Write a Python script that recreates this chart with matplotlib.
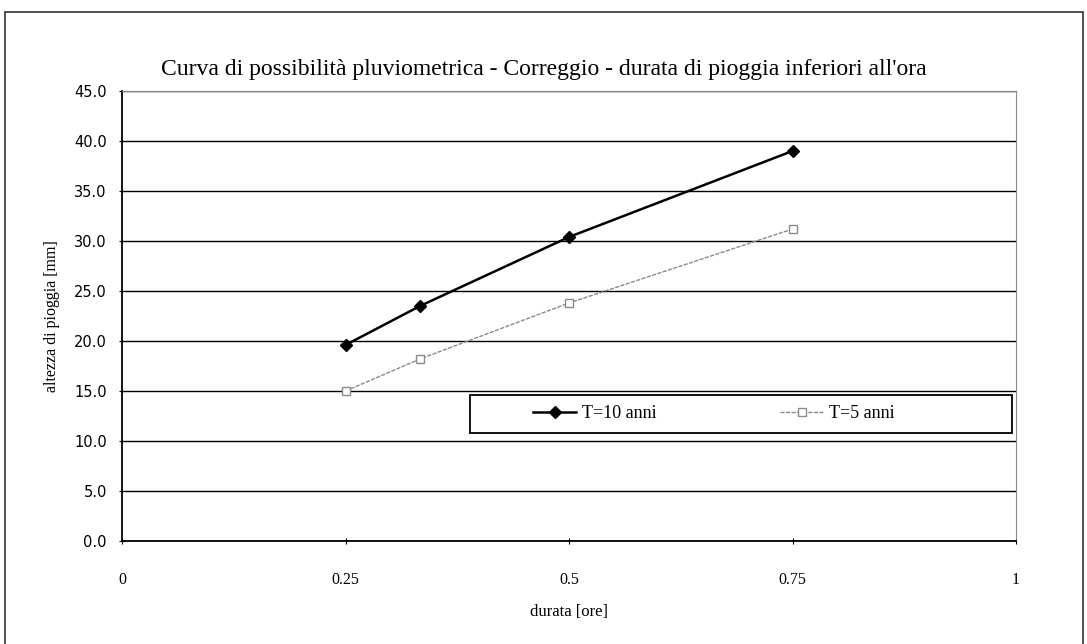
import matplotlib
matplotlib.use("Agg")
import matplotlib.pyplot as plt
from matplotlib.patches import Rectangle

plt.rcParams['font.family'] = ['Liberation Serif', 'DejaVu Serif']

durata = [0.25, 1/3, 0.5, 0.75]
t10 = [19.6, 23.5, 30.4, 39.0]
t5 = [15.0, 18.2, 23.8, 31.2]
yticks = [0, 5, 10, 15, 20, 25, 30, 35, 40, 45]
xticks = [0, 0.25, 0.5, 0.75, 1]
xticklabels = ['0', '0.25', '0.5', '0.75', '1']

W, H = 1087, 644
fig = plt.figure(figsize=(W/100, H/100), dpi=100)
fig.patches.append(Rectangle((5/W, -0.02), 1078/W, 1.02 - 12/H, transform=fig.transFigure,
                             fill=False, edgecolor='#333333', lw=1.2))
ax = fig.add_axes([122/W, 103/H, 894/W, 450/H])

l1, = ax.plot(durata, t10, color='black', lw=1.8, marker='D', ms=6, label='T=10 anni', zorder=3)
l2, = ax.plot(durata, t5, color='#8a8a8a', lw=1.0, ls=(0, (3, 1)), marker='s', ms=6,
              mfc='white', mec='#8a8a8a', label='T=5 anni', zorder=3)

ax.set_xlim(0, 1)
ax.set_ylim(0, 45)
ax.set_yticks(yticks)
ax.set_yticklabels([f'{v:.1f}' for v in yticks], fontsize=10.5, family='DejaVu Sans')
ax.set_xticks(xticks)
ax.set_xticklabels(xticklabels, fontsize=11.5)
ax.tick_params(axis='x', pad=20, length=4, direction='inout')
ax.tick_params(axis='y', pad=9, length=4, direction='inout')
ax.yaxis.grid(True, color='black', lw=1.0)
ax.set_axisbelow(True)
for s in ['top', 'right']:
    ax.spines[s].set_color('#888888')
ax.spines['left'].set_lw(1.3)
ax.spines['bottom'].set_lw(1.3)

ax.set_xlabel('durata [ore]', fontsize=12, labelpad=12)
ax.set_ylabel('altezza di pioggia [mm]', fontsize=11.5, labelpad=10)

fig.text(544/W, 1 - 70/H,
         "Curva di possibilità pluviometrica - Correggio - durata di pioggia inferiori all'ora",
         ha='center', va='center', fontsize=17)

# legend frame and entries
ax.add_patch(Rectangle(((470-122)/894, (541-433)/450), (1012-470)/894, 38/450,
                       transform=ax.transAxes, fill=True, facecolor='white',
                       edgecolor='black', lw=1.3, zorder=5))
yc = (541-414)/450
leg1 = ax.legend(handles=[l1], loc='center left', bbox_to_anchor=((533-122)/894, yc),
                 frameon=False, fontsize=13, handlelength=2.4, handletextpad=0.3,
                 borderpad=0, borderaxespad=0)
leg1.set_zorder(6)
ax.add_artist(leg1)
leg2 = ax.legend(handles=[l2], loc='center left', bbox_to_anchor=((780-122)/894, yc),
                 frameon=False, fontsize=13, handlelength=2.4, handletextpad=0.3,
                 borderpad=0, borderaxespad=0)
leg2.set_zorder(6)

fig.savefig('out.png', dpi=100)
